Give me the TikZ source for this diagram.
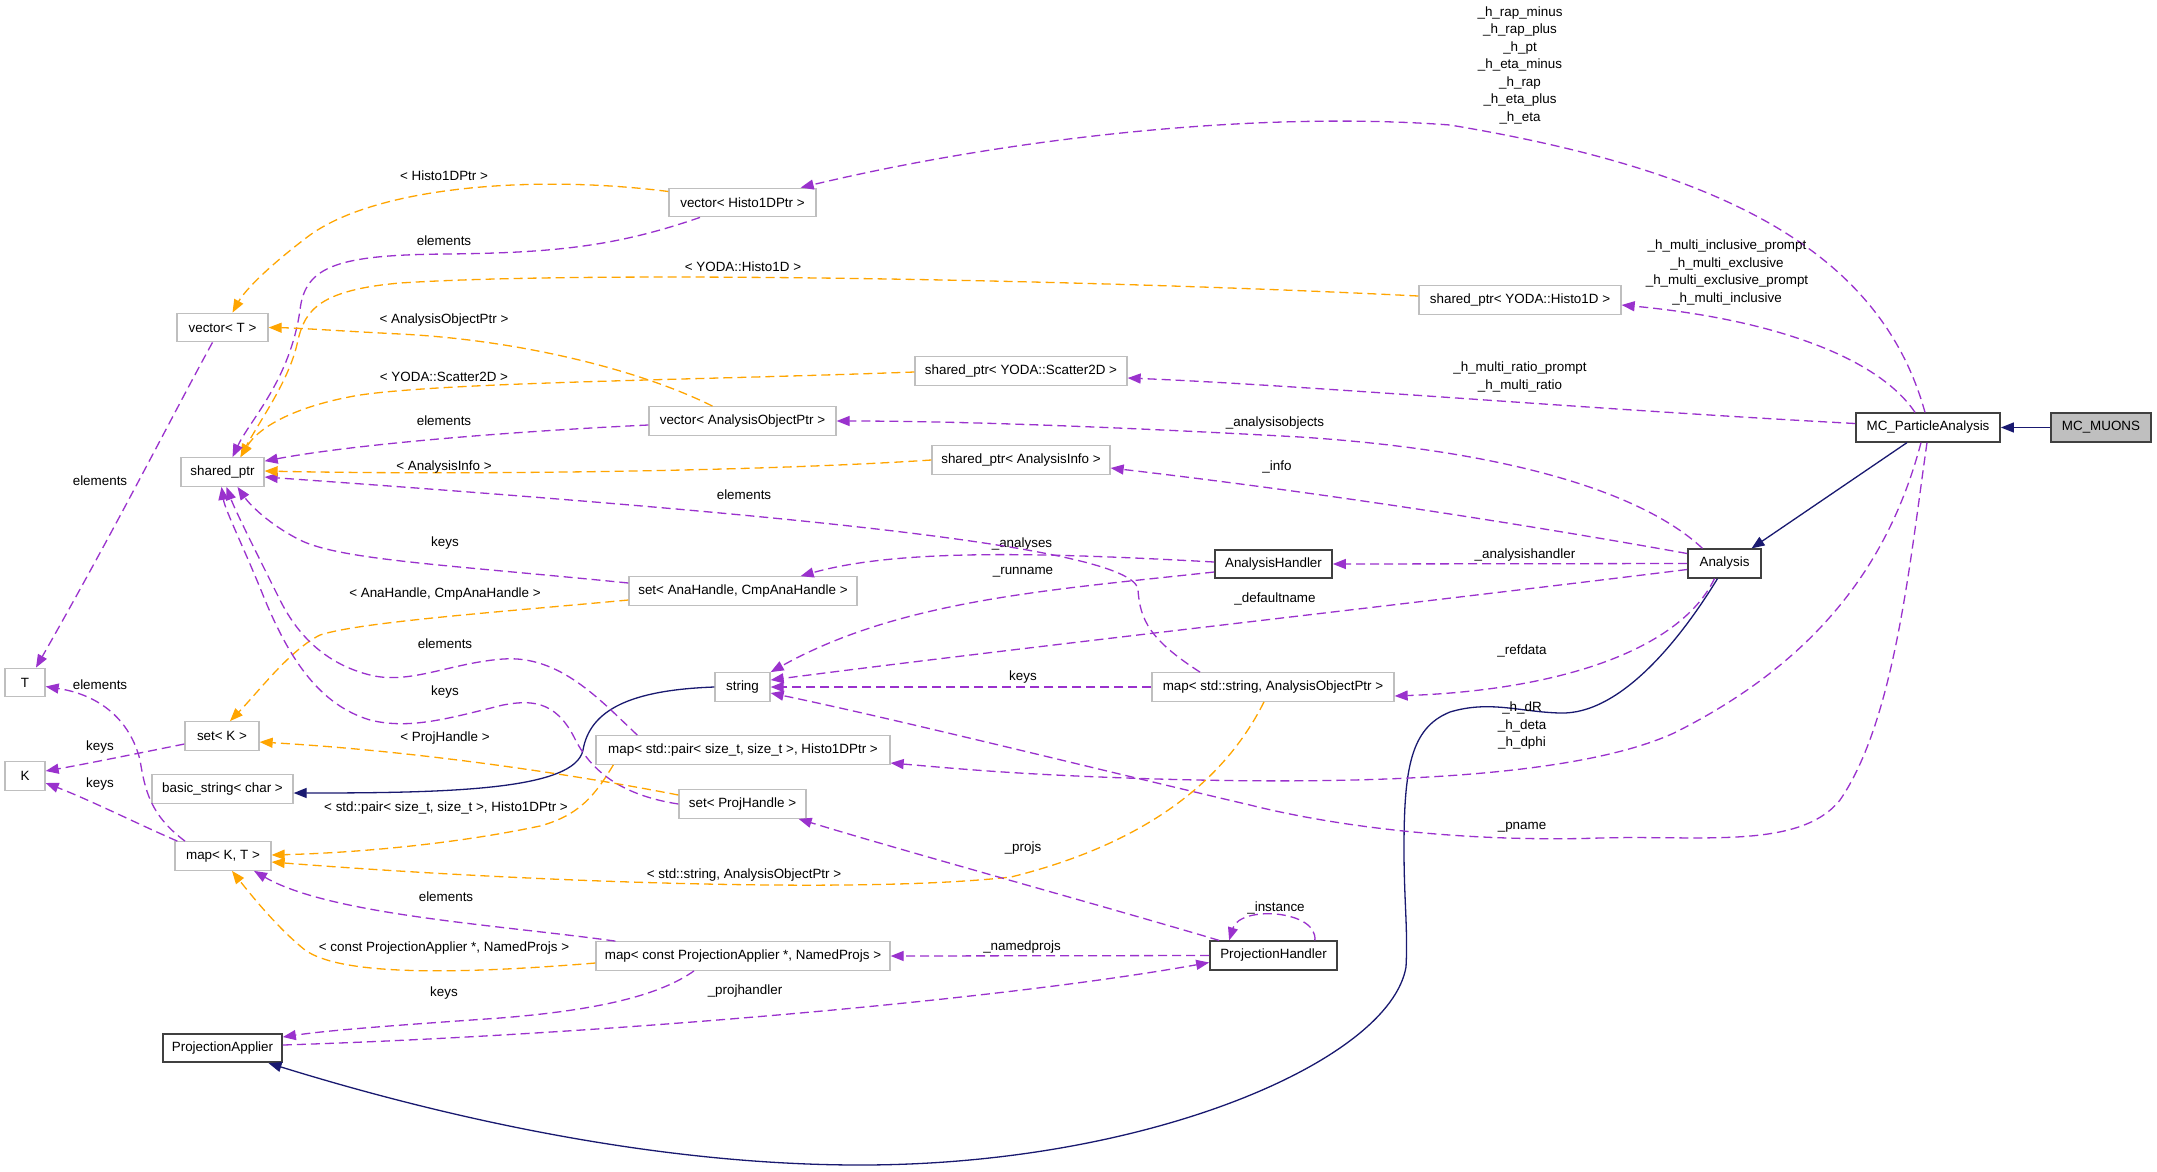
\documentclass[tikz,border=0pt]{standalone}
\usepackage{fontspec}
\setmainfont{Liberation Sans}
\usetikzlibrary{arrows.meta}
\definecolor{epurple}{HTML}{9A32CD}
\definecolor{eorange}{HTML}{FFA500}
\definecolor{enavy}{HTML}{191970}
\definecolor{bgray}{HTML}{BFBFBF}
\definecolor{bdark}{HTML}{404040}
\begin{document}
\begin{tikzpicture}[x=1pt,y=-1pt,
  font=\fontsize{13.4}{17.5}\selectfont,
  gbox/.style={draw=bgray, line width=1.3pt, fill=white, minimum height=28.5pt, inner sep=0pt},
  bbox/.style={draw=bdark, line width=1.7pt, fill=white, minimum height=28.5pt, inner sep=0pt},
  usee/.style={draw=epurple, line width=1.3pt, dash pattern=on 9pt off 5pt, -{Triangle[length=13pt,width=10pt]}},
  tmpl/.style={draw=eorange, line width=1.3pt, dash pattern=on 9pt off 5pt, -{Triangle[length=13pt,width=10pt]}},
  inh/.style={draw=enavy, line width=1.3pt, -{Triangle[length=13pt,width=10pt]}},
  lbl/.style={inner sep=0pt, align=center}]
\useasboundingbox (0,0) rectangle (2157,1171);
\fill[white] (0,0) rectangle (2157,1171);

% nodes
\node[bbox, fill=bgray, minimum width=100pt] (mcmuons) at (2101,427.5) {MC\_MUONS};
\node[bbox, minimum width=144pt] (mcpa) at (1928,427.5) {MC\_ParticleAnalysis};
\node[bbox, minimum width=73pt] (ana) at (1724.5,563.5) {Analysis};
\node[bbox, minimum width=117pt] (ahand) at (1273.5,564) {AnalysisHandler};
\node[gbox, minimum width=242pt] (mapsaop) at (1273,687) {map< std::string, AnalysisObjectPtr >};
\node[gbox, minimum width=55pt] (str) at (742.5,687) {string};
\node[gbox, minimum width=294pt] (mappair) at (743,750) {map< std::pair< size\_t, size\_t >, Histo1DPtr >};
\node[gbox, minimum width=127pt] (setph) at (742.5,804) {set< ProjHandle >};
\node[gbox, minimum width=294pt] (mapcpa) at (743,956) {map< const ProjectionApplier *, NamedProjs >};
\node[bbox, minimum width=127pt] (phand) at (1273.5,955.5) {ProjectionHandler};
\node[bbox, minimum width=119pt] (papp) at (222.5,1048) {ProjectionApplier};
\node[gbox, minimum width=228pt] (setah) at (743,591) {set< AnaHandle, CmpAnaHandle >};
\node[gbox, minimum width=178pt] (spai) at (1021,460) {shared\_ptr< AnalysisInfo >};
\node[gbox, minimum width=187pt] (vaop) at (742.5,421) {vector< AnalysisObjectPtr >};
\node[gbox, minimum width=212pt] (spsc) at (1021,371) {shared\_ptr< YODA::Scatter2D >};
\node[gbox, minimum width=147pt] (vh) at (742.5,202.5) {vector< Histo1DPtr >};
\node[gbox, minimum width=202pt] (sph) at (1520,300) {shared\_ptr< YODA::Histo1D >};
\node[gbox, minimum width=91pt] (vt) at (222.5,327.5) {vector< T >};
\node[gbox, minimum width=83pt] (sp) at (222.5,472) {shared\_ptr};
\node[gbox, minimum width=40pt] (nT) at (25,682.5) {T};
\node[gbox, minimum width=40pt] (nK) at (25,776) {K};
\node[gbox, minimum width=74pt] (setk) at (222,736) {set< K >};
\node[gbox, minimum width=141pt] (bstr) at (222.5,789) {basic\_string< char >};
\node[gbox, minimum width=96pt] (mapkt) at (223,856) {map< K, T >};

% inheritance
\draw[inh] (mcmuons.west) -- (mcpa.east);
\draw[inh] ([xshift=-21pt]mcpa.south) -- ([xshift=27pt]ana.north);
\draw[inh] ([xshift=-7pt]ana.south) .. controls (1680,640) and (1620,715) .. (1560,713)
  .. controls (1520,712) and (1490,700) .. (1450,712)
  .. controls (1410,728) and (1404,770) .. (1404,850)
  .. controls (1404,900) and (1408,930) .. (1406,967)
  .. controls (1390,1060) and (1150,1165) .. (860,1165)
  .. controls (640,1165) and (420,1110) .. ([xshift=46pt]papp.south);
\draw[inh] (str.west) .. controls (630,690) and (590,710) .. (583,750)
  .. controls (575,790) and (450,793) .. ([yshift=-4pt]bstr.east);

% MC_ParticleAnalysis members
\draw[usee] ([xshift=-3pt]mcpa.north) .. controls (1880,250) and (1720,170) .. (1450,125)
  .. controls (1250,110) and (1000,140) .. ([xshift=-16pt]vh.north east);
\node[lbl] (l1) at (1520,65) {\_h\_rap\_minus\\\_h\_rap\_plus\\\_h\_pt\\\_h\_eta\_minus\\\_h\_rap\\\_h\_eta\_plus\\\_h\_eta};
\draw[usee] ([xshift=-13pt]mcpa.north) .. controls (1880,360) and (1780,320) .. ([yshift=-5pt]sph.east);
\node[lbl] (l2) at (1727,272.5) {\_h\_multi\_inclusive\_prompt\\\_h\_multi\_exclusive\\\_h\_multi\_exclusive\_prompt\\\_h\_multi\_inclusive};
\draw[usee] ([yshift=4pt]mcpa.west) .. controls (1600,410) and (1300,385) .. ([yshift=-7pt]spsc.east);
\node[lbl] (l3) at (1520,377) {\_h\_multi\_ratio\_prompt\\\_h\_multi\_ratio};
\draw[usee] ([xshift=-7pt]mcpa.south) .. controls (1890,560) and (1820,660) .. (1674,733)
  .. controls (1560,785) and (1300,785) .. (1100,777)
  .. controls (1000,773) and (950,768) .. ([yshift=-13pt]mappair.east);
\node[lbl] (l4) at (1522,726) {\_h\_dR\\\_h\_deta\\\_h\_dphi};
\draw[usee] ([xshift=-1pt]mcpa.south) .. controls (1910,560) and (1895,720) .. (1840,800)
  .. controls (1800,850) and (1700,835) .. (1600,838)
  .. controls (1480,842) and (1350,830) .. (1250,805)
  .. controls (1100,770) and (900,720) .. ([yshift=-6pt]str.east);
\node[lbl] (l5) at (1522,827) {\_pname};

% Analysis members
\draw[usee] (ana.west) -- (ahand.east);
\node[lbl] (l6) at (1525,555) {\_analysishandler};
\draw[usee] ([yshift=10pt]ana.west) .. controls (1500,520) and (1300,490) .. ([yshift=-8pt]spai.east);
\node[lbl] (l7) at (1277,467) {\_info};
\draw[usee] ([xshift=-22pt]ana.north) .. controls (1640,490) and (1500,450) .. (1300,437)
  .. controls (1100,426) and (950,421) .. (vaop.east);
\node[lbl] (l8) at (1275,423) {\_analysisobjects};
\draw[usee] ([yshift=-6pt]ana.west) .. controls (1400,605) and (1000,650) .. ([yshift=7pt]str.east);
\node[lbl] (l9) at (1275,599) {\_defaultname};
\draw[usee] ([xshift=-10pt]ana.south) .. controls (1680,650) and (1560,690) .. ([yshift=-9pt]mapsaop.east);
\node[lbl] (l10) at (1522,651) {\_refdata};

% AnalysisHandler members
\draw[usee] ([yshift=2pt]ahand.west) .. controls (1050,553) and (900,548) .. ([xshift=-57pt]setah.north east);
\node[lbl] (l11) at (1022,544) {\_analyses};
\draw[usee] ([yshift=-8pt]ahand.west) .. controls (1050,590) and (900,600) .. (str.north east);
\node[lbl] (l12) at (1023,572) {\_runname};

% map<string,AOP>
\draw[usee] (mapsaop.west) -- (str.east);
\node[lbl] (l13) at (1023,677) {keys};
\draw[usee] ([xshift=-73pt]mapsaop.north) .. controls (1150,640) and (1140,620) .. (1138,590)
  .. controls (1136,548) and (800,515) .. ([yshift=-5pt]sp.east);
\node[lbl] (l14) at (744,495) {elements};
\draw[tmpl] ([xshift=-9pt]mapsaop.south) .. controls (1230,770) and (1160,840) .. (1011,877)
  .. controls (850,895) and (500,880) .. ([yshift=-6pt]mapkt.east);
\node[lbl] (l15) at (744,875) {< std::string, AnalysisObjectPtr >};

% shared_ptr instances
\draw[tmpl] (spai.west) .. controls (750,472) and (450,475) .. ([yshift=1pt]sp.east);
\node[lbl] (l16) at (444,467) {< AnalysisInfo >};
\draw[tmpl] ([yshift=-1pt]spsc.west) .. controls (700,380) and (450,382) .. (360,395)
  .. controls (300,405) and (260,425) .. ([xshift=18pt]sp.north);
\node[lbl] (l17) at (444,377) {< YODA::Scatter2D >};
\draw[tmpl] ([yshift=4pt]sph.west) .. controls (1100,280) and (600,270) .. (400,283)
  .. controls (320,290) and (305,310) .. (298,340)
  .. controls (290,380) and (260,420) .. ([xshift=18pt]sp.north);
\node[lbl] (l18) at (743,267) {< YODA::Histo1D >};

% vectors
\draw[usee] ([xshift=-42.5pt]vh.south) .. controls (620,245) and (560,253) .. (446,254)
  .. controls (340,255) and (305,265) .. (300,310)
  .. controls (290,380) and (250,420) .. ([xshift=10pt]sp.north);
\node[lbl] (l19) at (444,241) {elements};
\draw[tmpl] ([yshift=11pt]vh.west) .. controls (540,175) and (380,185) .. (310,235)
  .. controls (270,265) and (245,290) .. ([xshift=10pt]vt.north);
\node[lbl] (l20) at (444,176) {< Histo1DPtr >};
\draw[usee] ([yshift=-4pt]vaop.west) .. controls (500,432) and (350,445) .. ([yshift=-4pt]sp.north east);
\node[lbl] (l21) at (444,421) {elements};
\draw[tmpl] ([xshift=-30pt]vaop.north) .. controls (640,370) and (520,340) .. (400,334)
  .. controls (340,331) and (300,328) .. (vt.east);
\node[lbl] (l22) at (444,320) {< AnalysisObjectPtr >};
\draw[usee] ([xshift=-10pt]vt.south) .. controls (170,420) and (120,520) .. ([xshift=11pt]nT.north);
\node[lbl] (l23) at (100,481) {elements};

% sets
\draw[usee] ([yshift=8pt]setah.west) .. controls (450,565) and (340,560) .. (300,540)
  .. controls (270,525) and (250,505) .. ([xshift=15pt]sp.south);
\node[lbl] (l24) at (445,543) {keys};
\draw[tmpl] ([yshift=-9pt]setah.west) .. controls (500,612) and (360,622) .. (320,635)
  .. controls (290,650) and (260,690) .. ([xshift=8pt]setk.north);
\node[lbl] (l25) at (445,594) {< AnaHandle, CmpAnaHandle >};
\draw[usee] (setph.west) .. controls (620,795) and (590,770) .. (574,737)
  .. controls (555,700) and (530,700) .. (503,705)
  .. controls (450,718) and (410,730) .. (370,720)
  .. controls (320,705) and (290,660) .. (265,600)
  .. controls (245,550) and (225,510) .. ([xshift=-1pt]sp.south);
\node[lbl] (l26) at (445,692) {keys};
\draw[tmpl] ([yshift=9pt]setph.west) .. controls (550,770) and (400,750) .. ([yshift=-6pt]setk.east);
\node[lbl] (l27) at (445,738) {< ProjHandle >};
\draw[usee] ([yshift=-8pt]setk.west) .. controls (130,755) and (80,765) .. ([yshift=5pt]nK.east);
\node[lbl] (l28) at (100,747) {keys};

% map<pair>
\draw[usee] ([xshift=42pt]mappair.north west) .. controls (600,700) and (560,655) .. (503,659)
  .. controls (450,663) and (410,685) .. (370,675)
  .. controls (330,665) and (300,640) .. (280,600)
  .. controls (255,550) and (235,510) .. ([xshift=4pt]sp.south);
\node[lbl] (l29) at (445,644) {elements};
\draw[tmpl] ([xshift=18pt]mappair.south west) .. controls (595,795) and (580,815) .. (540,826)
  .. controls (450,845) and (350,853) .. ([yshift=1pt]mapkt.east);
\node[lbl] (l30) at (446,808) {< std::pair< size\_t, size\_t >, Histo1DPtr >};

% map<K,T>
\draw[usee] ([xshift=3pt]mapkt.north west) .. controls (140,825) and (90,800) .. ([yshift=-7pt]nK.east);
\node[lbl] (l31) at (100,784) {keys};
\draw[usee] ([xshift=-38pt]mapkt.north) .. controls (150,815) and (145,790) .. (140,760)
  .. controls (130,720) and (100,695) .. ([yshift=-4pt]nT.east);
\node[lbl] (l32) at (100,685) {elements};

% map<const PA*>
\draw[usee] ([xshift=20pt]mapcpa.north west) .. controls (500,925) and (330,915) .. ([xshift=31pt]mapkt.south);
\node[lbl] (l33) at (446,897) {elements};
\draw[tmpl] ([yshift=-7pt]mapcpa.west) .. controls (450,975) and (340,975) .. (305,950)
  .. controls (280,930) and (255,900) .. ([xshift=9pt]mapkt.south);
\node[lbl] (l34) at (444,948) {< const ProjectionApplier *, NamedProjs >};
\draw[usee] ([xshift=-49pt]mapcpa.south) .. controls (660,995) and (600,1010) .. (500,1018)
  .. controls (400,1025) and (330,1030) .. ([yshift=11pt]papp.east);
\node[lbl] (l35) at (444,993) {keys};

% ProjectionHandler
\draw[usee] (phand.west) -- (mapcpa.east);
\node[lbl] (l36) at (1022,947) {\_namedprojs};
\draw[usee] ([yshift=3pt]papp.east) .. controls (600,1035) and (1000,1000) .. ([yshift=-7pt]phand.west);
\node[lbl] (l37) at (745,991) {\_projhandler};
\draw[usee] ([xshift=10pt]phand.north west) .. controls (1100,905) and (900,850) .. ([xshift=-8pt]setph.south east);
\node[lbl] (l38) at (1023,848) {\_projs};
\draw[usee] ([xshift=-23pt]phand.north east) .. controls (1318,910) and (1240,905) .. ([xshift=20pt]phand.north west);
\node[lbl] (l39) at (1276,908) {\_instance};
\end{tikzpicture}
\end{document}
